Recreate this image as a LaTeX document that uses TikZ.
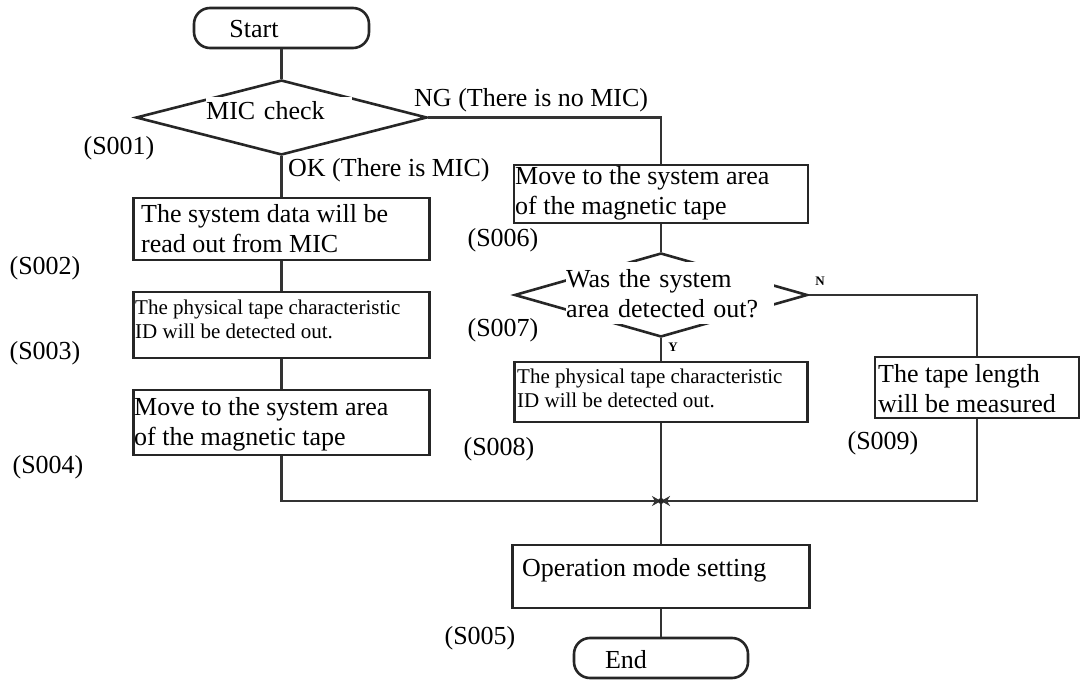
\documentclass[tikz,border=0pt]{standalone}
\usepackage{fontspec}
\setmainfont{Liberation Serif}
\usetikzlibrary{shapes.geometric,arrows.meta}
\begin{document}
\begin{tikzpicture}[x=1pt,y=-1pt,
  line/.style={draw=black!80,line width=2.3pt},
  stepbox/.style={draw=black!85,line width=2.6pt,inner sep=0pt,fill=white},
  term/.style={draw=black!85,line width=2.6pt,rounded corners=16pt,inner sep=0pt,fill=white},
  decision/.style={diamond,draw=black!85,line width=2.6pt,inner sep=0pt},
  big/.style={font=\fontsize{26}{30}\selectfont},
  small/.style={font=\fontsize{21}{24}\selectfont},
  txt/.style={big,inner sep=0pt,align=left},
  stxt/.style={small,inner sep=0pt,align=left},
  tag/.style={big,inner sep=0pt},
  yn/.style={font=\fontsize{13}{13}\selectfont\bfseries,inner sep=0pt},
  merge/.style={-{Stealth[length=9pt,width=10pt]}}
]
\useasboundingbox (0,0) rectangle (1081,684);
\fill[white] (0,0) rectangle (1081,684);

% terminals
\node[term,minimum width=175pt,minimum height=40pt] (start) at (281.5,28) {};
\node[tag] (startt) at (254,29) {Start};
\node[term,minimum width=174pt,minimum height=40pt] (end) at (661,658) {};
\node[tag] (endt) at (626,660) {End};

% left column
\node[decision,minimum width=291pt,minimum height=75pt] (d1) at (281.5,117.5) {};
\node[stepbox,minimum width=296pt,minimum height=62pt] (s2) at (281.5,229) {};
\node[stepbox,minimum width=296pt,minimum height=66pt] (s3) at (281.5,325) {};
\node[stepbox,minimum width=296pt,minimum height=65pt] (s4) at (281.5,422.5) {};

% right column
\node[stepbox,minimum width=294pt,minimum height=58pt] (s6) at (661,194) {};
\node[decision,minimum width=293pt,minimum height=84pt] (d2) at (661,295) {};
\node[stepbox,minimum width=293pt,minimum height=60pt] (s8) at (661,392) {};
\node[stepbox,minimum width=204pt,minimum height=61pt] (s9) at (977,387.5) {};
\node[stepbox,minimum width=297pt,minimum height=63pt] (s5) at (661,576.5) {};

\coordinate (j) at (661,501);

% connectors
\draw[line] (start.south) -- (d1.north);
\draw[line] (d1.south) -- (s2.north);
\draw[line] (s2.south) -- (s3.north);
\draw[line] (s3.south) -- (s4.north);
\draw[line] (d1.east) -| (s6.north);
\draw[line] (s6.south) -- (d2.north);
\draw[line] (d2.south) -- (s8.north);
\draw[line] (d2.east) -| (s9.north);
\draw[line] (s8.south) -- (s5.north);
\draw[line,merge] (s4.south) |- (j);
\draw[line,merge] (s9.south) |- (j);
\fill[black!85] (j) circle (3pt);
\draw[line] (s5.south) -- (end.north);

% texts inside the decisions
\node[txt,fill=white,anchor=west,text width=146pt,minimum height=27pt] (d1t) at (206,111) {MIC check};
\node[txt,fill=white,anchor=north west,text width=208pt,minimum height=62pt] (d2t) at (566,262) {Was the system\\area detected out?};

% texts inside the boxes
\node[txt,anchor=west] (s2t) at (141,229) {The system data will be\\read out from MIC};
\node[stxt,anchor=west] (s3t) at (135,319.5) {The physical tape characteristic\\ID will be detected out.};
\node[txt,anchor=west] (s4t) at (134,424) {Move to the system area\\of the magnetic tape};
\node[txt,anchor=west] (s6t) at (515,193) {Move to the system area\\of the magnetic tape};
\node[stxt,anchor=west] (s8t) at (517,388.5) {The physical tape characteristic\\ID will be detected out.};
\node[txt,anchor=west] (s9t) at (878,389) {The tape length\\will be measured};
\node[txt,anchor=west] (s5t) at (522,570) {Operation mode setting};

% branch labels
\node[tag,anchor=west] (ng) at (414,100) {NG (There is no MIC)};
\node[tag,anchor=west] (ok) at (288,170) {OK (There is MIC)};
\node[yn] (nlab) at (820,281) {N};
\node[yn] (ylab) at (673,347) {Y};

% step numbers
\node[tag] (t1) at (119,148) {(S001)};
\node[tag] (t2) at (45,268) {(S002)};
\node[tag] (t3) at (45,353) {(S003)};
\node[tag] (t4) at (48,467) {(S004)};
\node[tag] (t5) at (480,638) {(S005)};
\node[tag] (t6) at (503,240) {(S006)};
\node[tag] (t7) at (503,330) {(S007)};
\node[tag] (t8) at (499,449) {(S008)};
\node[tag] (t9) at (883,443) {(S009)};
\end{tikzpicture}
\end{document}
